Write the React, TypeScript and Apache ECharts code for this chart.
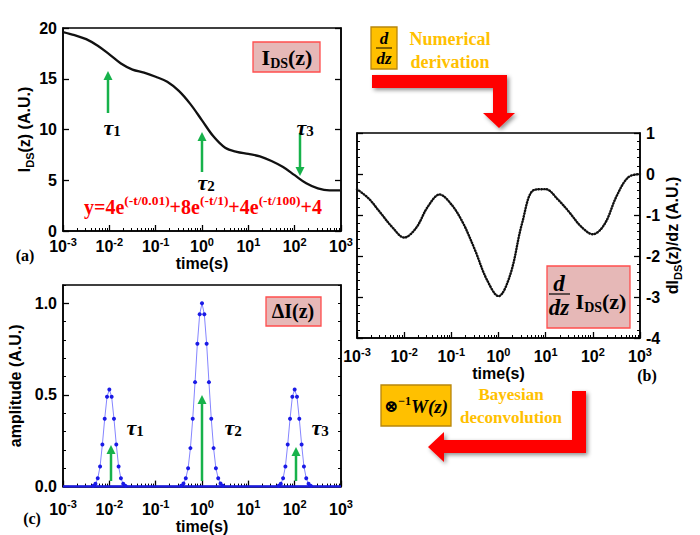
import React, { useEffect, useRef } from "react";
import * as echarts from "echarts";

// ---------- data ----------
// decades (log10 of time in s) used as x coordinate
const aLogTime = [-3, -2.75, -2.5, -2.25, -2, -1.75, -1.5, -1.25, -1, -0.75, -0.5, -0.25, 0, 0.25, 0.5, 0.75, 1, 1.25, 1.5, 1.75, 2, 2.25, 2.5, 2.75, 3];
const aCurrent = [19.6, 19.3, 18.9, 18.25, 17.4, 16.5, 15.9, 15.6, 15.2, 14.7, 13.8, 12.5, 10.9, 9.3, 8.2, 7.8, 7.6, 7.35, 6.9, 6.3, 5.5, 4.7, 4.2, 4.0, 4.0];

const bLogTime = [-3, -2.75, -2.5, -2.25, -2, -1.75, -1.5, -1.25, -1, -0.75, -0.5, -0.25, 0, 0.25, 0.5, 0.75, 1, 1.25, 1.5, 1.75, 2, 2.25, 2.5, 2.75, 3];
const bDerivative = [-0.37, -0.6, -0.95, -1.3, -1.55, -1.32, -0.8, -0.5, -0.74, -1.2, -1.85, -2.57, -2.98, -2.45, -1.2, -0.39, -0.37, -0.61, -0.93, -1.28, -1.47, -1.22, -0.55, -0.08, 0];

const cPeakCenters = [-2, 0, 2];
const cPointStep = 0.05;
const cPeak1 = [0.004, 0.015, 0.045, 0.11, 0.23, 0.37, 0.49, 0.53, 0.49, 0.37, 0.23, 0.11, 0.045, 0.015, 0.004];
const cPeak2 = [0.005, 0.017, 0.045, 0.1, 0.21, 0.37, 0.57, 0.78, 0.94, 1.0, 0.94, 0.78, 0.57, 0.37, 0.21, 0.1, 0.045, 0.017, 0.005];
const cPeak3 = [0.004, 0.015, 0.045, 0.11, 0.23, 0.37, 0.49, 0.53, 0.49, 0.37, 0.23, 0.11, 0.045, 0.015, 0.004];

const decadeMin = -3;
const decadeMax = 3;
const minorFactors = [2, 3, 4, 5, 6, 7, 8, 9];

// ---------- styles ----------
const SANS = "Liberation Sans";
const SERIF = "Liberation Serif";
const GREEN = "#17b24b";
const GOLD = "#ffc000";
const PINK = "#e6b8b7";

const minorLogTicks: number[] = [];
for (let d = decadeMin; d < decadeMax; d++) {
  minorFactors.forEach((k) => minorLogTicks.push(d + Math.log10(k)));
}

const xRich = {
  b: { fontFamily: SANS, fontWeight: "bold", fontSize: 16, color: "#000", lineHeight: 21 },
  s: { fontFamily: SANS, fontWeight: "bold", fontSize: 11, color: "#000", lineHeight: 10, verticalAlign: "top" },
};
const nameRich = {
  n: { fontFamily: SANS, fontWeight: "bold", fontSize: 16, color: "#000", lineHeight: 21 },
  s: { fontFamily: SANS, fontWeight: "bold", fontSize: 11, color: "#000", lineHeight: 10, verticalAlign: "bottom" },
};

const lineStyleAxis = { color: "#000", width: 1.5 };
const tickStyle = { color: "#000", width: 1.3 };

function xMain(g: number, margin: number, gap: number) {
  return {
    gridIndex: g, type: "value", min: decadeMin, max: decadeMax, interval: 1, position: "bottom",
    axisLine: { show: true, onZero: false, lineStyle: lineStyleAxis },
    axisTick: { show: true, inside: true, length: 6, lineStyle: tickStyle },
    axisLabel: { margin, formatter: (v: number) => `{b|10}{s|${Math.round(v)}}`, rich: xRich },
    splitLine: { show: false },
    name: "time(s)", nameLocation: "middle", nameGap: gap,
    nameTextStyle: { fontFamily: SANS, fontWeight: "bold", fontSize: 16, color: "#000" },
  };
}
function xMinor(g: number) {
  return {
    gridIndex: g, type: "value", min: decadeMin, max: decadeMax, position: "bottom",
    axisLine: { show: false, onZero: false },
    axisLabel: { show: false },
    axisTick: { show: true, inside: true, length: 3, customValues: minorLogTicks, lineStyle: { color: "#000", width: 1 } },
    splitLine: { show: false },
  };
}
const yLabel = { fontFamily: SANS, fontWeight: "bold", fontSize: 16, color: "#000" };

// ---------- graphic helpers ----------
function txt(x: number, y: number, text: string, style: any = {}, extra: any = {}) {
  return {
    type: "text", x, y, silent: true, z: 20,
    style: { text, align: "center", verticalAlign: "middle", fill: "#000", fontFamily: SERIF, fontWeight: "bold", fontSize: 16, ...style },
    ...extra,
  };
}
function greenArrow(x: number, yTail: number, yHead: number) {
  const dir = yHead < yTail ? -1 : 1;
  const headLen = 9;
  const half = 4.5;
  return [
    { type: "line", z: 20, silent: true, shape: { x1: x, y1: yTail, x2: x, y2: yHead - dir * (headLen - 1) }, style: { stroke: GREEN, lineWidth: 2.5 } },
    { type: "polygon", z: 20, silent: true, shape: { points: [[x, yHead], [x - half, yHead - dir * headLen], [x + half, yHead - dir * headLen]] }, style: { fill: GREEN } },
  ];
}
function tau(x: number, y: number, n: string) {
  return txt(x, y, `{t|τ}{s|${n}}`, {
    rich: {
      t: { fontFamily: SERIF, fontWeight: "bold", fontStyle: "italic", fontSize: 22, fill: "#000", lineHeight: 23 },
      s: { fontFamily: SERIF, fontWeight: "bold", fontSize: 15, fill: "#000", lineHeight: 12, verticalAlign: "bottom" },
    },
  });
}
function rect(x: number, y: number, w: number, h: number, fill: string, stroke: string) {
  return { type: "rect", z: 15, silent: true, shape: { x, y, width: w, height: h }, style: { fill, stroke, lineWidth: 1.3 } };
}
const redShadow = { shadowBlur: 4, shadowColor: "rgba(0,0,0,0.45)", shadowOffsetX: 2, shadowOffsetY: 2 };

export default function App() {
  const ref = useRef<HTMLDivElement>(null);
  useEffect(() => {
    if (!ref.current) return;
    const chart = echarts.init(ref.current, null, { renderer: "svg" });

    const peakData = (vals: number[], center: number) =>
      vals.map((v, i) => [center + (i - (vals.length - 1) / 2) * cPointStep, v]);

    const serifRich = (size: number) => ({
      m: { fontFamily: SERIF, fontWeight: "bold", fontSize: size, fill: "#000", lineHeight: size + 4 },
      s: { fontFamily: SERIF, fontWeight: "bold", fontSize: Math.round(size * 0.65), fill: "#000", lineHeight: 10, verticalAlign: "bottom" },
    });

    const elements: any[] = [
      // panel letters
      txt(25, 255, "(a)", { fontSize: 16 }),
      txt(647, 375, "(b)", { fontSize: 16 }),
      txt(32, 518, "(c)", { fontSize: 16 }),
      // panel (a) annotations
      rect(253, 42, 67, 30, PINK, "#ff4d4d"),
      txt(287, 57, "{m|I}{s|DS}{m|(z)}", { rich: serifRich(22) }),
      txt(203, 207, "{m|y=4e}{p|(-t/0.01)}{m|+8e}{p|(-t/1)}{m|+4e}{p|(-t/100)}{m|+4}", {
        rich: {
          m: { fontFamily: SERIF, fontWeight: "bold", fontSize: 20, fill: "#ff0000", lineHeight: 27 },
          p: { fontFamily: SERIF, fontWeight: "bold", fontSize: 13.5, fill: "#ff0000", lineHeight: 13, verticalAlign: "top" },
        },
      }),
      ...greenArrow(108, 113, 71),
      ...greenArrow(202, 172, 132),
      ...greenArrow(300, 133, 176),
      tau(112, 127, "1"),
      tau(206, 182, "2"),
      tau(305, 127, "3"),
      // panel (b) annotation box
      rect(547, 266, 83, 62, PINK, "#ff4d4d"),
      txt(559, 283, "d", { fontStyle: "italic", fontSize: 23 }),
      { type: "line", z: 20, silent: true, shape: { x1: 549, y1: 294, x2: 570, y2: 294 }, style: { stroke: "#000", lineWidth: 1.2 } },
      txt(559, 307, "dz", { fontStyle: "italic", fontSize: 23 }),
      txt(601, 301, "{m|I}{s|DS}{m|(z)}", { rich: serifRich(22) }),
      // panel (c) annotations
      rect(266, 297, 55, 29, PINK, "#ff4d4d"),
      txt(293, 311, "ΔI(z)", { fontSize: 20 }),
      ...greenArrow(111, 481, 445),
      ...greenArrow(202, 481, 395),
      ...greenArrow(296, 481, 447),
      tau(135, 427, "1"),
      tau(233, 427, "2"),
      tau(320, 427, "3"),
      // numerical derivation
      rect(371, 27, 26, 42, GOLD, "#b8860b"),
      txt(384, 38, "d", { fontStyle: "italic", fontSize: 17 }),
      { type: "line", z: 20, silent: true, shape: { x1: 376, y1: 48, x2: 392, y2: 48 }, style: { stroke: "#000", lineWidth: 1 } },
      txt(384, 58, "dz", { fontStyle: "italic", fontSize: 17 }),
      txt(450, 39, "Numerical", { fill: GOLD, fontSize: 18 }),
      txt(450, 62, "derivation", { fill: GOLD, fontSize: 18 }),
      {
        type: "polygon", z: 12, silent: true,
        shape: { points: [[372, 75], [507, 75], [507, 113], [515, 113], [499, 128], [483, 113], [493, 113], [493, 88], [372, 88]] },
        style: { fill: "#ff0000", ...redShadow },
      },
      // bayesian deconvolution
      rect(381, 385, 70, 41, GOLD, "#b8860b"),
      txt(416, 406, "{o|⊗}{p|−1}{w|W(z)}", {
        rich: {
          o: { fontFamily: "DejaVu Serif", fontWeight: "bold", fontSize: 17, fill: "#000", lineHeight: 22 },
          p: { fontFamily: SERIF, fontWeight: "bold", fontSize: 12, fill: "#000", lineHeight: 11, verticalAlign: "top" },
          w: { fontFamily: SERIF, fontWeight: "bold", fontStyle: "italic", fontSize: 19, fill: "#000", lineHeight: 22 },
        },
      }),
      txt(511, 394, "Bayesian", { fill: GOLD, fontSize: 17 }),
      txt(511, 417, "deconvolution", { fill: GOLD, fontSize: 17 }),
      {
        type: "polygon", z: 12, silent: true,
        shape: { points: [[572, 391], [586, 391], [586, 453], [444, 453], [444, 462], [428, 447], [444, 432], [444, 440], [572, 440]] },
        style: { fill: "#ff0000", ...redShadow },
      },
    ];

    const option: any = {
      animation: false,
      backgroundColor: "#fff",
      grid: [
        { left: 63, top: 28, width: 278, height: 203, show: true, borderColor: "#000", borderWidth: 1.5, containLabel: false },
        { left: 357, top: 133, width: 283, height: 205, show: true, borderColor: "#000", borderWidth: 1.5, containLabel: false },
        { left: 63, top: 285, width: 278, height: 202, show: true, borderColor: "#000", borderWidth: 1.5, containLabel: false },
      ],
      xAxis: [xMain(0, 5, 20), xMinor(0), xMain(1, 8, 26), xMinor(1), xMain(2, 12, 27), xMinor(2)],
      yAxis: [
        // (a)
        {
          gridIndex: 0, type: "value", min: 0, max: 20, interval: 5, position: "left",
          axisLine: { show: true, onZero: false, lineStyle: lineStyleAxis },
          axisTick: { inside: true, length: 6, lineStyle: tickStyle },
          axisLabel: { ...yLabel, margin: 6 },
          splitLine: { show: false },
          name: "{n|I}{s|DS}{n|(z) (A.U.)}", nameLocation: "middle", nameRotate: 90, nameGap: 27,
          nameTextStyle: { rich: nameRich },
        },
        {
          gridIndex: 0, type: "value", min: 0, max: 20, interval: 5, position: "right",
          axisLine: { show: true, onZero: false, lineStyle: lineStyleAxis },
          axisTick: { inside: true, length: 6, lineStyle: tickStyle },
          axisLabel: { show: false }, splitLine: { show: false },
        },
        // (b)
        {
          gridIndex: 1, type: "value", min: -4, max: 1, interval: 1, position: "right",
          axisLine: { show: true, onZero: false, lineStyle: lineStyleAxis },
          axisTick: { inside: true, length: 6, lineStyle: tickStyle },
          minorTick: { show: true, splitNumber: 5, length: 3, lineStyle: { color: "#000", width: 1 } },
          axisLabel: { ...yLabel, margin: 6 },
          splitLine: { show: false },
          name: "{n|dI}{s|DS}{n|(z)/dz (A.U.)}", nameLocation: "middle", nameRotate: 90, nameGap: 22,
          nameTextStyle: { rich: nameRich },
        },
        {
          gridIndex: 1, type: "value", min: -4, max: 1, interval: 1, position: "left",
          axisLine: { show: true, onZero: false, lineStyle: lineStyleAxis },
          axisTick: { inside: true, length: 6, lineStyle: tickStyle },
          minorTick: { show: true, splitNumber: 5, length: 3, lineStyle: { color: "#000", width: 1 } },
          axisLabel: { show: false }, splitLine: { show: false },
        },
        // (c)
        {
          gridIndex: 2, type: "value", min: 0, max: 1.1, interval: 0.1, position: "left",
          axisLine: { show: true, onZero: false, lineStyle: lineStyleAxis },
          axisTick: { inside: true, length: 6, customValues: [0, 0.5, 1.0], lineStyle: tickStyle },
          axisLabel: { ...yLabel, margin: 6, customValues: [0, 0.5, 1.0], formatter: (v: number) => v.toFixed(1) },
          splitLine: { show: false },
          name: "amplitude (A.U.)", nameLocation: "middle", nameRotate: 90, nameGap: 40,
          nameTextStyle: { fontFamily: SANS, fontWeight: "bold", fontSize: 16, color: "#000" },
        },
        {
          gridIndex: 2, type: "value", min: 0, max: 1.1, interval: 0.1, position: "left",
          axisLine: { show: false, onZero: false },
          axisTick: { inside: true, length: 3, lineStyle: { color: "#000", width: 1 } },
          axisLabel: { show: false }, splitLine: { show: false },
        },
        {
          gridIndex: 2, type: "value", min: 0, max: 1.1, interval: 0.1, position: "right",
          axisLine: { show: true, onZero: false, lineStyle: lineStyleAxis },
          axisTick: { inside: true, length: 3, lineStyle: { color: "#000", width: 1 } },
          axisLabel: { show: false }, splitLine: { show: false },
        },
      ],
      series: [
        {
          type: "line", xAxisIndex: 0, yAxisIndex: 0, smooth: 0.35, showSymbol: false,
          data: aLogTime.map((t, i) => [t, aCurrent[i]]),
          lineStyle: { color: "#111", width: 2.3 },
        },
        {
          type: "line", xAxisIndex: 2, yAxisIndex: 2, smooth: 0.35, showSymbol: false,
          data: bLogTime.map((t, i) => [t, bDerivative[i]]),
          lineStyle: { color: "#111", width: 2.4, type: [0.6, 2.2], cap: "round" },
        },
        {
          type: "line", xAxisIndex: 4, yAxisIndex: 4, showSymbol: false,
          data: [[decadeMin, 0], [decadeMax, 0]],
          lineStyle: { color: "#1a1ae6", width: 2.5 },
        },
        ...[cPeak1, cPeak2, cPeak3].map((vals, k) => ({
          type: "line", xAxisIndex: 4, yAxisIndex: 4, showSymbol: true, showAllSymbol: true,
          symbol: "circle", symbolSize: 4,
          data: peakData(vals, cPeakCenters[k]),
          itemStyle: { color: "#1a1ae6" },
          lineStyle: { color: "#8585ff", width: 1 },
        })),
      ],
      graphic: { elements },
    };
    chart.setOption(option);
    return () => chart.dispose();
  }, []);
  return <div ref={ref} style={{ position: "absolute", left: 0, top: 0, width: 700, height: 535 }} />;
}
